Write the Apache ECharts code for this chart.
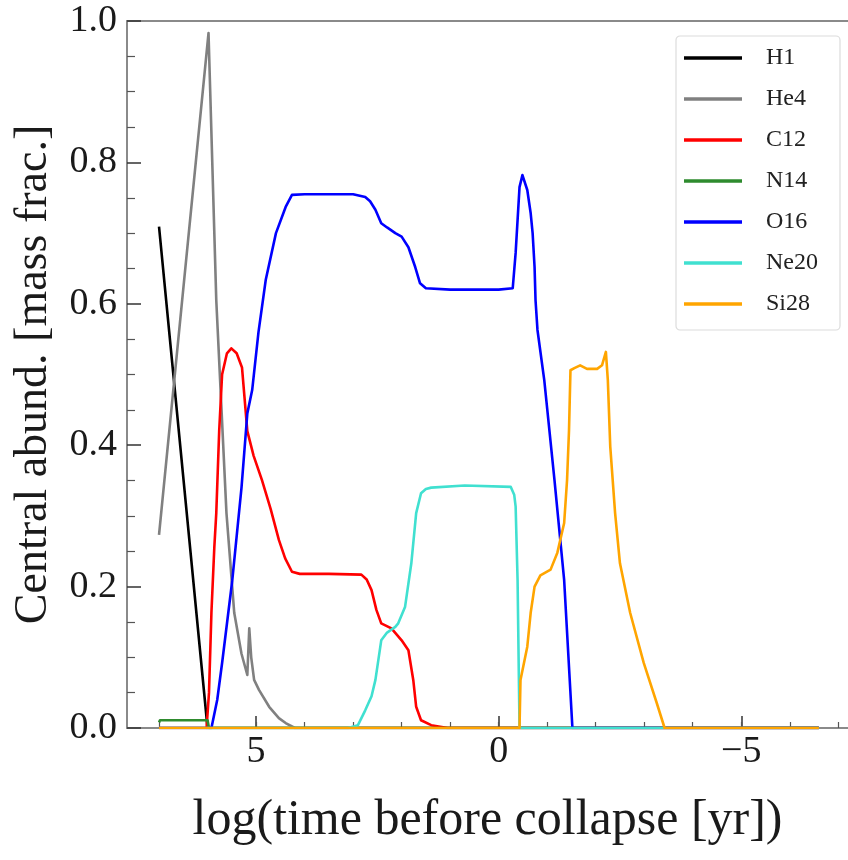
<!DOCTYPE html>
<html>
<head>
<meta charset="utf-8">
<script src="https://cdn.jsdelivr.net/npm/echarts@6/dist/echarts.min.js"></script>
<style>
html,body{margin:0;padding:0;background:#fff;}
#chart{width:848px;height:860px;}
</style>
</head>
<body>
<div id="chart"></div>
<script>
// ---- data (log time before collapse [yr], central mass fraction) ----
const h1X = [7.0, 6.0, 5.95, -6.6];
const h1Y = [0.709, 0.0, 0.0, 0.0];

const he4X = [7.0, 5.98, 5.82, 5.61, 5.45, 5.3, 5.18, 5.14, 5.1, 5.04, 4.94, 4.73, 4.53, 4.39, 4.2, -6.6];
const he4Y = [0.273, 0.983, 0.605, 0.304, 0.163, 0.105, 0.075, 0.141, 0.1, 0.068, 0.054, 0.03, 0.014, 0.007, 0.0, 0.0];

const c12X = [7.0, 6.02, 5.97, 5.92, 5.86, 5.82, 5.76, 5.7, 5.6, 5.51, 5.4, 5.29, 5.18, 5.05, 4.88, 4.7, 4.53, 4.4, 4.26, 4.1, 3.5, 2.83, 2.72, 2.62, 2.52, 2.42, 2.21, 2.0, 1.86, 1.76, 1.7, 1.6, 1.39, 1.05, -6.6];
const c12Y = [0, 0, 0.05, 0.163, 0.256, 0.304, 0.42, 0.5, 0.53, 0.537, 0.53, 0.51, 0.42, 0.385, 0.351, 0.31, 0.266, 0.24, 0.221, 0.218, 0.218, 0.217, 0.21, 0.195, 0.167, 0.148, 0.141, 0.124, 0.11, 0.068, 0.03, 0.011, 0.004, 0, 0];

const n14X = [7.0, 6.98, 6.0, 5.97, -6.6];
const n14Y = [0.008, 0.011, 0.011, 0.0, 0.0];

const o16X = [7.0, 5.92, 5.8, 5.7, 5.49, 5.3, 5.18, 5.08, 4.95, 4.8, 4.59, 4.39, 4.26, 4.0, 3.0, 2.75, 2.65, 2.54, 2.42, 2.3, 2.13, 2.0, 1.86, 1.72, 1.62, 1.5, 1.0, 0.0, -0.29, -0.35, -0.43, -0.49, -0.59, -0.66, -0.7, -0.74, -0.76, -0.8, -0.94, -1.15, -1.35, -1.52, -6.6];
const o16Y = [0, 0, 0.04, 0.092, 0.209, 0.34, 0.445, 0.478, 0.56, 0.634, 0.70, 0.737, 0.754, 0.755, 0.755, 0.751, 0.745, 0.733, 0.714, 0.708, 0.70, 0.695, 0.68, 0.652, 0.629, 0.622, 0.62, 0.62, 0.622, 0.672, 0.765, 0.782, 0.761, 0.728, 0.7, 0.652, 0.605, 0.563, 0.492, 0.351, 0.209, 0, 0];

const ne20X = [7.0, 3.1, 2.9, 2.75, 2.62, 2.54, 2.42, 2.3, 2.13, 2.07, 1.93, 1.8, 1.7, 1.6, 1.5, 1.39, 0.7, -0.25, -0.32, -0.35, -0.39, -0.43, -6.6];
const ne20Y = [0, 0, 0.004, 0.025, 0.045, 0.068, 0.124, 0.135, 0.143, 0.148, 0.171, 0.233, 0.304, 0.332, 0.338, 0.34, 0.343, 0.341, 0.33, 0.313, 0.209, 0, 0];

const si28X = [7.0, -0.43, -0.45, -0.59, -0.66, -0.74, -0.86, -1.07, -1.21, -1.35, -1.41, -1.45, -1.48, -1.56, -1.68, -1.82, -2.03, -2.13, -2.21, -2.25, -2.3, -2.4, -2.5, -2.71, -2.99, -3.26, -3.42, -6.6];
const si28Y = [0, 0, 0.068, 0.115, 0.163, 0.2, 0.216, 0.224, 0.248, 0.29, 0.351, 0.421, 0.506, 0.509, 0.513, 0.508, 0.508, 0.513, 0.532, 0.492, 0.398, 0.304, 0.233, 0.163, 0.092, 0.035, 0, 0];

const seriesNames = ['H1', 'He4', 'C12', 'N14', 'O16', 'Ne20', 'Si28'];
const seriesX = [h1X, he4X, c12X, n14X, o16X, ne20X, si28X];
const seriesY = [h1Y, he4Y, c12Y, n14Y, o16Y, ne20Y, si28Y];
const seriesColors = ['#000000', '#808080', '#ff0000', '#2e8b2e', '#0000ff', '#40e0d0', '#ffa500'];

const xMajorTicks = [5, 0, -5];
const xMinorTicks = [7, 6, 5, 4, 3, 2, 1, 0, -1, -2, -3, -4, -5, -6, -7];
const xMin = -7.2, xMax = 7.66;

const FONT = '"Liberation Serif", "Times New Roman", serif';
const axisGray = '#8a8a8a';

const chart = echarts.init(document.getElementById('chart'), null, {renderer: 'canvas'});

const series = seriesNames.map((name, i) => ({
  name: name,
  type: 'line',
  xAxisIndex: 0,
  yAxisIndex: 0,
  data: seriesX[i].map((x, k) => [x, seriesY[i][k]]),
  showSymbol: false,
  symbol: 'none',
  lineStyle: {color: seriesColors[i], width: 2.6, join: 'round'},
  itemStyle: {color: seriesColors[i]},
  animation: false,
  z: 2 + i
}));

const option = {
  backgroundColor: '#ffffff',
  animation: false,
  grid: {left: 127, top: 21, bottom: 132, right: -4, containLabel: false},
  legend: {
    orient: 'vertical',
    left: 676,
    top: 36,
    padding: [8, 22, 12, 8],
    icon: 'rect',
    itemWidth: 58,
    itemHeight: 3.5,
    itemGap: 13,
    backgroundColor: '#ffffff',
    borderColor: '#dcdcdc',
    borderWidth: 1.2,
    borderRadius: 4,
    textStyle: {fontFamily: FONT, fontSize: 24, color: '#222', padding: [0, 0, 0, 19], lineHeight: 28},
    data: seriesNames
  },
  xAxis: [
    {
      type: 'value', inverse: true, min: xMin, max: xMax, position: 'bottom',
      name: 'log(time before collapse [yr])', nameLocation: 'middle', nameGap: 68,
      nameTextStyle: {fontFamily: FONT, fontSize: 50, color: '#1a1a1a'},
      axisLine: {show: true, onZero: false, lineStyle: {color: axisGray, width: 2}},
      axisTick: {show: true, inside: true, length: 12, lineStyle: {color: '#333', width: 1.5}, customValues: xMajorTicks},
      axisLabel: {show: true, margin: 5, fontFamily: FONT, fontSize: 38, color: '#1a1a1a', customValues: xMajorTicks,
        formatter: v => (v < 0 ? '\u2212' + Math.abs(v) : String(v))},
      splitLine: {show: false}
    },
    {
      type: 'value', inverse: true, min: xMin, max: xMax, position: 'bottom',
      axisLine: {show: false, onZero: false},
      axisTick: {show: true, inside: true, length: 6, lineStyle: {color: '#555', width: 1.2}, customValues: xMinorTicks},
      axisLabel: {show: false},
      splitLine: {show: false}
    },
    {
      type: 'value', inverse: true, min: xMin, max: xMax, position: 'top',
      axisLine: {show: true, onZero: false, lineStyle: {color: axisGray, width: 2}},
      axisTick: {show: false}, axisLabel: {show: false}, splitLine: {show: false}
    }
  ],
  yAxis: [
    {
      type: 'value', min: 0, max: 1, interval: 0.2, position: 'left',
      name: 'Central abund. [mass frac.]', nameLocation: 'middle', nameGap: 70, nameRotate: 90,
      nameTextStyle: {fontFamily: FONT, fontSize: 46, color: '#1a1a1a'},
      axisLine: {show: true, onZero: false, lineStyle: {color: axisGray, width: 2}},
      axisTick: {show: true, inside: true, length: 14, lineStyle: {color: '#333', width: 1.5}},
      minorTick: {show: true, splitNumber: 4, length: 8, lineStyle: {color: '#555', width: 1.2}},
      axisLabel: {show: true, margin: 10, fontFamily: FONT, fontSize: 38, color: '#1a1a1a', formatter: v => v.toFixed(1)},
      splitLine: {show: false}
    }
  ],
  series: series
};

chart.setOption(option);
</script>
</body>
</html>
